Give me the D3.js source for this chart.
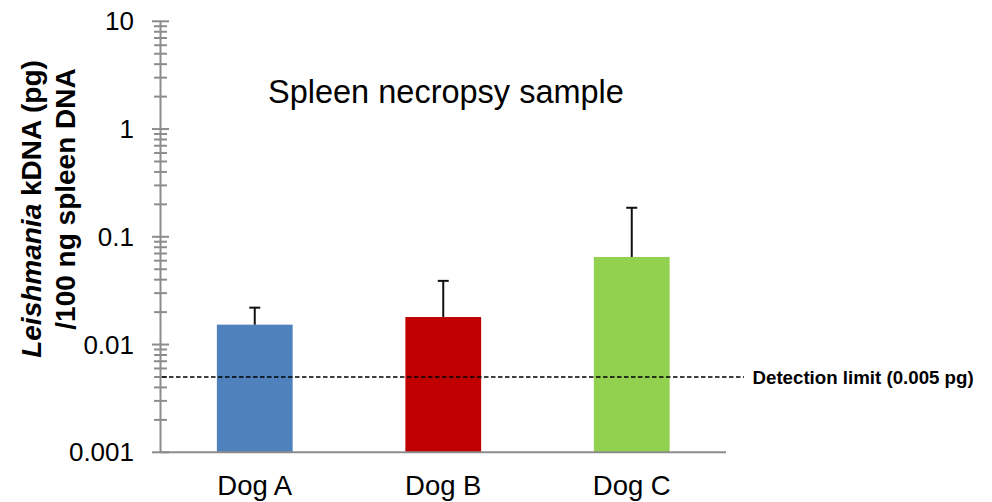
<!DOCTYPE html>
<html>
<head>
<meta charset="utf-8">
<script src="https://cdn.jsdelivr.net/npm/d3@7"></script>
<style>
  html, body { margin: 0; padding: 0; background: #fff; }
  svg { display: block; font-family: "Liberation Sans", Arial, sans-serif; }
</style>
</head>
<body>
<svg id="chart"></svg>
<script>
// chart values
const dogs = ["Dog A", "Dog B", "Dog C"];
const kdna = [0.0153, 0.018, 0.065];
const errUpper = [0.022, 0.039, 0.186];
const barColors = ["#4F81BD", "#C00000", "#92D050"];
const majorTicks = [0.001, 0.01, 0.1, 1, 10];
const tickLabels = ["0.001", "0.01", "0.1", "1", "10"];
const detectionLimit = 0.005;

const W = 992, H = 502;
const axisX = 160.5;

const svg = d3.select("#chart").attr("width", W).attr("height", H);

const y = d3.scaleLog().domain([0.001, 10]).range([452.3, 21.3]);
const x = d3.scaleBand().domain(dogs).range([axisX, 726])
    .paddingInner(0.598).paddingOuter(0.299);

const axisGray = "#8c8c8c";

// bars
svg.append("g").selectAll("rect")
    .data(dogs)
    .join("rect")
    .attr("x", d => x(d))
    .attr("width", x.bandwidth())
    .attr("y", (d, i) => y(kdna[i]))
    .attr("height", (d, i) => y(0.001) - y(kdna[i]))
    .attr("fill", (d, i) => barColors[i]);

// error bars (upper only)
const err = svg.append("g").attr("stroke", "#111").attr("stroke-width", 2);
err.selectAll("line.stem")
    .data(dogs)
    .join("line")
    .attr("class", "stem")
    .attr("x1", d => x(d) + x.bandwidth() / 2)
    .attr("x2", d => x(d) + x.bandwidth() / 2)
    .attr("y1", (d, i) => y(kdna[i]))
    .attr("y2", (d, i) => y(errUpper[i]));
err.selectAll("line.cap")
    .data(dogs)
    .join("line")
    .attr("class", "cap")
    .attr("x1", d => x(d) + x.bandwidth() / 2 - 5.5)
    .attr("x2", d => x(d) + x.bandwidth() / 2 + 5.5)
    .attr("y1", (d, i) => y(errUpper[i]))
    .attr("y2", (d, i) => y(errUpper[i]));

// x baseline
svg.append("line")
    .attr("x1", axisX).attr("x2", 726)
    .attr("y1", y(0.001)).attr("y2", y(0.001))
    .attr("stroke", axisGray).attr("stroke-width", 2);

// y axis line
svg.append("line")
    .attr("x1", axisX).attr("x2", axisX)
    .attr("y1", y(10)).attr("y2", y(0.001))
    .attr("stroke", axisGray).attr("stroke-width", 2);

// minor ticks 2..9 in each decade
const minorTicks = [];
majorTicks.slice(0, -1).forEach(m => {
    for (let k = 2; k <= 9; k++) minorTicks.push(m * k);
});
svg.append("g").selectAll("line")
    .data(minorTicks)
    .join("line")
    .attr("x1", axisX - 6.5).attr("x2", axisX + 6.5)
    .attr("y1", d => y(d)).attr("y2", d => y(d))
    .attr("stroke", axisGray).attr("stroke-width", 2);

// major ticks cross the axis
svg.append("g").selectAll("line")
    .data(majorTicks)
    .join("line")
    .attr("x1", axisX - 8.5).attr("x2", axisX + 8.5)
    .attr("y1", d => y(d)).attr("y2", d => y(d))
    .attr("stroke", axisGray).attr("stroke-width", 2);

// tick labels
svg.append("g").selectAll("text")
    .data(majorTicks)
    .join("text")
    .attr("x", 134)
    .attr("y", d => y(d))
    .attr("dy", "0.35em")
    .attr("text-anchor", "end")
    .attr("font-size", 26)
    .attr("fill", "#000")
    .text((d, i) => tickLabels[i]);

// category labels
svg.append("g").selectAll("text")
    .data(dogs)
    .join("text")
    .attr("x", d => x(d) + x.bandwidth() / 2)
    .attr("y", 495)
    .attr("text-anchor", "middle")
    .attr("font-size", 27.5)
    .attr("fill", "#000")
    .text(d => d);

// detection limit
svg.append("line")
    .attr("x1", axisX + 1.5).attr("x2", 744)
    .attr("y1", y(detectionLimit)).attr("y2", y(detectionLimit))
    .attr("stroke", "#000").attr("stroke-width", 1.5)
    .attr("stroke-dasharray", "4.5,2.5");
svg.append("text")
    .attr("x", 752.5)
    .attr("y", y(detectionLimit))
    .attr("dy", "0.35em")
    .attr("font-size", 18.7)
    .attr("font-weight", "bold")
    .attr("fill", "#000")
    .text("Detection limit (0.005 pg)");

// title inside plot
svg.append("text")
    .attr("x", 268)
    .attr("y", 102.5)
    .attr("font-size", 32.5)
    .attr("fill", "#000")
    .text("Spleen necropsy sample");

// y axis title, two lines
const yTitle = svg.append("text")
    .attr("transform", "translate(0,205) rotate(-90)")
    .attr("text-anchor", "middle")
    .attr("font-size", 28)
    .attr("font-weight", "bold")
    .attr("fill", "#000");
const l1 = yTitle.append("tspan").attr("x", -4).attr("y", 41);
l1.append("tspan").attr("font-style", "italic").text("Leishmania");
l1.append("tspan").text(" kDNA (pg)");
yTitle.append("tspan").attr("x", 6).attr("y", 75).text("/100 ng spleen DNA");
</script>
</body>
</html>
